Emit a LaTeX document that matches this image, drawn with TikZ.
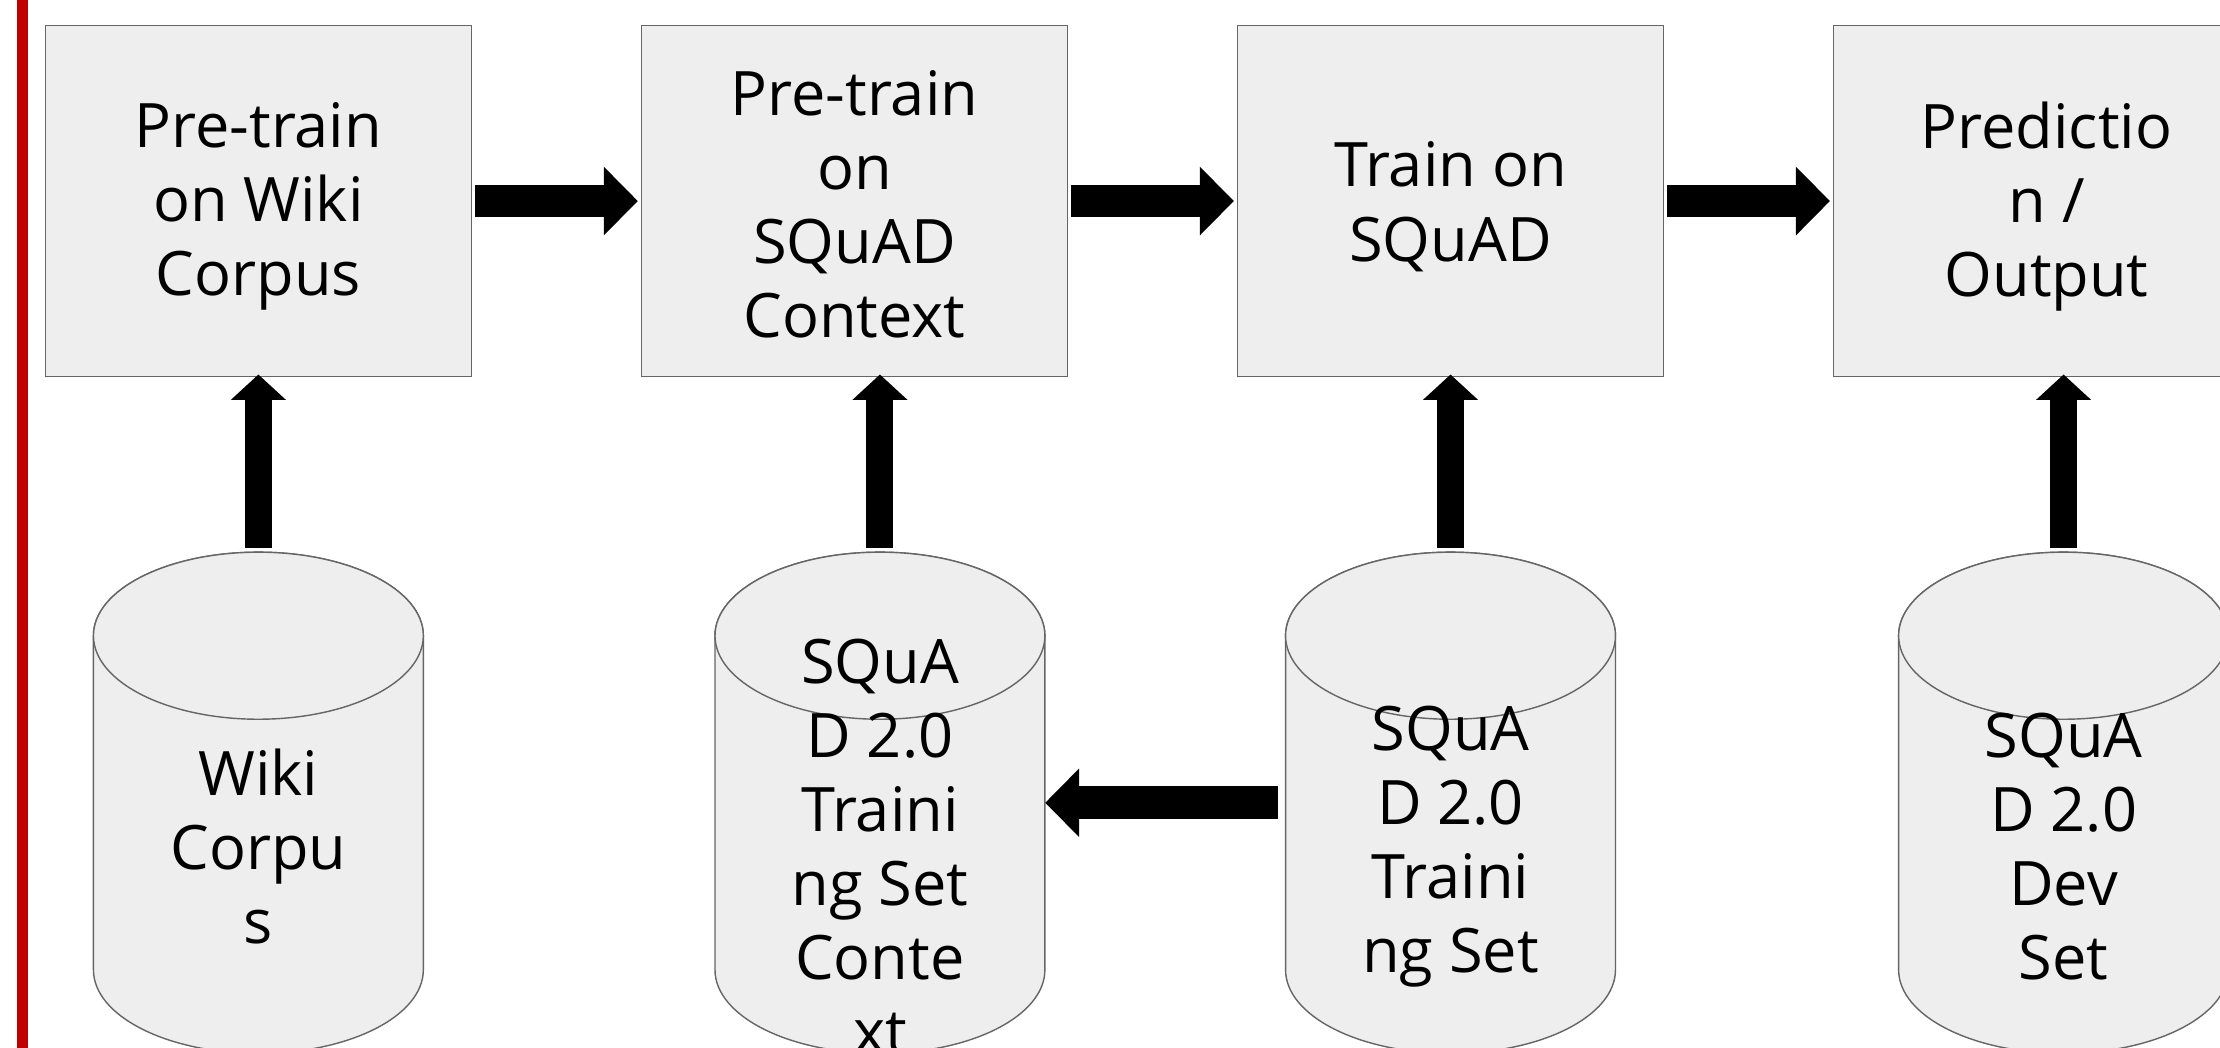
\documentclass[tikz,border=0pt]{standalone}
\usepackage{fontspec}
\setmainfont{Open Sans}
\usetikzlibrary{arrows.meta,calc}
\definecolor{boxfill}{HTML}{EEEEEE}
\definecolor{boxline}{HTML}{666666}
\definecolor{barred}{HTML}{C00000}
\newcommand{\lbltext}{\fontsize{43.3}{52.3}\selectfont}
\tikzset{
  procbox/.style={draw=boxline, fill=boxfill, line width=1pt, minimum width=301pt,
    minimum height=248pt, inner sep=0pt},
  boxlbl/.style={font=\lbltext, align=center, inner sep=0pt},
  cyltext/.style={font=\lbltext, align=center, inner sep=0pt, minimum width=233pt},
  cylshape/.style={draw=boxline, fill=boxfill, line width=1pt},
  harrow/.style={line width=23pt, -{Triangle[width=47pt,length=24pt]}, black},
  varrow/.style={line width=19pt, -{Triangle[width=38pt,length=18pt]}, black},
}
\newcommand{\dbcyl}[1]{%
  \path[cylshape] (#1-116.5,291) -- (#1-116.5,55)
    arc[start angle=180, end angle=360, x radius=116.5, y radius=59]
    -- (#1+116.5,291)
    arc[start angle=0, end angle=180, x radius=116.5, y radius=59] -- cycle;
  \path[cylshape] (#1,291) ellipse[x radius=116.5, y radius=59];
}
\begin{document}
\begin{tikzpicture}[x=1pt,y=1pt]
\useasboundingbox (0,0) rectangle (1568,740);
\clip (0,0) rectangle (1568,740);
\fill[white] (0,0) rectangle (1568,740);
\fill[barred] (12,0) rectangle (19.5,740);

% process boxes
\node[procbox] (b1) at (182.5,598) {};
\node[procbox] (b2) at (603.5,598) {};
\node[procbox] (b3) at (1024.5,598) {};
\node[procbox] (b4) at (1445.5,598) {};
\node[boxlbl] (b1t) at ([yshift=-4pt]b1.center) {Pre-train\\on Wiki\\Corpus};
\node[boxlbl] (b2t) at ([yshift=-2pt]b2.center) {Pre-train\\on\\SQuAD\\Context};
\node[boxlbl] (b3t) at ([yshift=-4pt]b3.center) {Train on\\SQuAD};
\node[boxlbl] (b4t) at ([yshift=-4pt]b4.center) {Predictio\\n /\\Output};

% cylinders
\dbcyl{182.5}
\dbcyl{621.5}
\dbcyl{1024.5}
\dbcyl{1457.5}
\node[cyltext] (c1) at (182.5,142) {Wiki\\Corpu\\s};
\node[cyltext] (c2) at (621.5,142) {SQuA\\D 2.0\\Traini\\ng Set\\Conte\\xt};
\node[cyltext] (c3) at (1024.5,142) {SQuA\\D 2.0\\Traini\\ng Set};
\node[cyltext] (c4) at (1457.5,142) {SQuA\\D 2.0\\Dev\\Set};
\coordinate (t1) at (182.5,353);
\coordinate (t2) at (621.5,353);
\coordinate (t3) at (1024.5,353);
\coordinate (t4) at (1457.5,353);
\coordinate (lev) at (0,173);

% horizontal flow arrows
\draw[harrow, shorten <=2pt, shorten >=2pt] (b1.east) -- (b2.west);
\draw[harrow, shorten <=2pt, shorten >=2pt] (b2.east) -- (b3.west);
\draw[harrow, shorten <=2pt, shorten >=2pt] (b3.east) -- (b4.west);

% vertical arrows
\draw[varrow, shorten >=-2pt] (t1) -- (t1 |- b1.south);
\draw[varrow, shorten >=-2pt] (t2) -- (t2 |- b2.south);
\draw[varrow, shorten >=-2pt] (t3) -- (t3 |- b3.south);
\draw[varrow, shorten >=-2pt] (t4) -- (t4 |- b4.south);

% training set -> context
\draw[harrow, shorten <=5pt] (c3.west |- lev) -- (c2.east |- lev);
\end{tikzpicture}
\end{document}
